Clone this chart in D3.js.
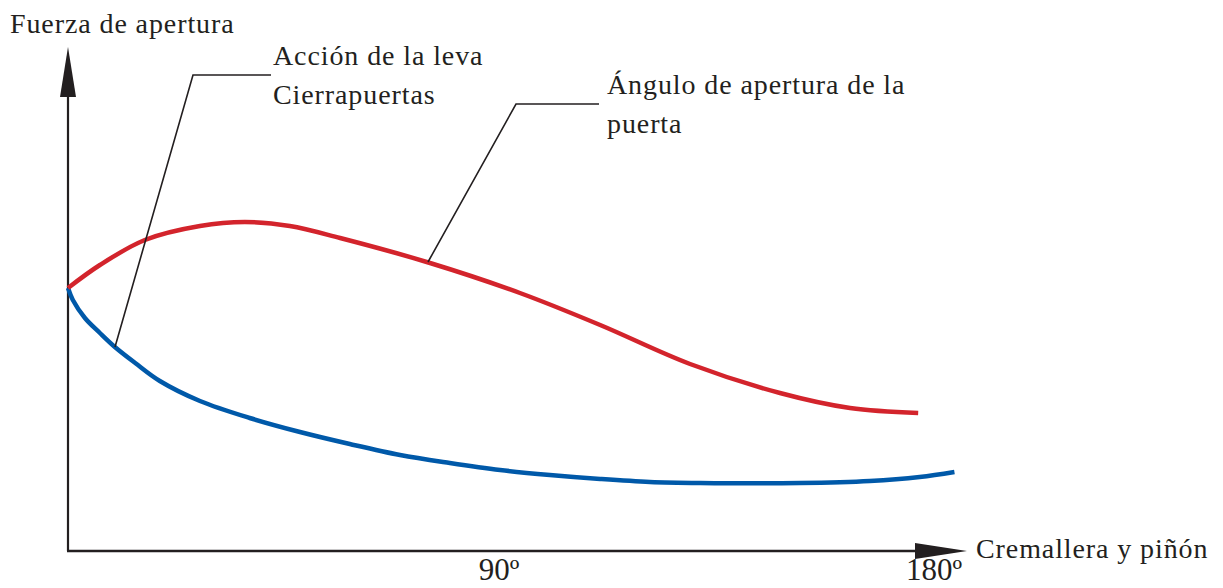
<!DOCTYPE html>
<html>
<head>
<meta charset="utf-8">
<script src="https://cdn.jsdelivr.net/npm/d3@7"></script>
<style>
  body { margin: 0; background: #fff; }
  text { font-family: "Liberation Serif", "DejaVu Serif", serif; fill: #231f20; }
  .lbl { font-size: 28px; letter-spacing: 0.9px; }
</style>
</head>
<body>
<div id="chart"></div>
<script>
// data (x in degrees, y in relative force units)
const redX = [0, 6.6, 15.9, 27.3, 36.6, 45.9, 56.3, 74.9, 93.5, 110.1, 128.7, 147.3, 161.8, 175.9];
const redY = [52.4, 57, 62, 64.8, 65.6, 64.8, 62.4, 57.4, 51.4, 45, 37.2, 31.4, 28.4, 27.4];
const blueX = [0, 1, 3.5, 6.6, 9.7, 13.9, 19, 27.3, 37.6, 48, 58.3, 68.7, 79, 89.4, 99.7, 110.1, 120.4, 130.8, 151.4, 165.9, 176.2, 183.4];
const blueY = [52.4, 50, 46.4, 43.4, 40.6, 37.4, 33.8, 29.8, 26.4, 23.6, 21.2, 19, 17.4, 16, 15, 14.2, 13.6, 13.4, 13.4, 13.8, 14.6, 15.6];
const tickValues = [90, 180];
const tickLabels = ["90º", "180º"];

function init() {
    const width = 1223;
    const height = 588;

    const x = d3.scaleLinear().domain([0, 180]).range([68, 938]);
    const y = d3.scaleLinear().domain([0, 100]).range([550, 50]);

    const svg = d3.select("#chart")
        .append("svg")
        .attr("width", width)
        .attr("height", height);

    // axes with arrow heads
    const axisColor = "#231f20";
    svg.append("line")
        .attr("x1", 68).attr("y1", 551).attr("x2", 68).attr("y2", 90)
        .attr("stroke", axisColor).attr("stroke-width", 2.2);
    svg.append("path")
        .attr("d", "M68,47 L60,97 L76,97 Z")
        .attr("fill", axisColor);
    svg.append("line")
        .attr("x1", 67).attr("y1", 551).attr("x2", 930).attr("y2", 551)
        .attr("stroke", axisColor).attr("stroke-width", 2.5);
    svg.append("path")
        .attr("d", "M967,551 L915,543 L915,559 Z")
        .attr("fill", axisColor);

    // axis texts
    svg.append("text")
        .attr("class", "lbl")
        .attr("x", 10).attr("y", 33)
        .text("Fuerza de apertura");
    svg.append("text")
        .attr("class", "lbl")
        .attr("x", 976).attr("y", 558)
        .text("Cremallera y piñón");

    svg.selectAll(".tick")
        .data(tickValues)
        .enter()
        .append("text")
        .attr("class", "tick")
        .attr("x", d => x(d) - 4)
        .attr("y", 580)
        .attr("text-anchor", "middle")
        .style("font-size", "31px")
        .text((d, i) => tickLabels[i]);

    // curves
    const line = d3.line()
        .x(d => x(d[0]))
        .y(d => y(d[1]))
        .curve(d3.curveCatmullRom.alpha(0.5));

    svg.append("path")
        .datum(blueX.map((v, i) => [v, blueY[i]]))
        .attr("d", line)
        .attr("fill", "none")
        .attr("stroke", "#0059a9")
        .attr("stroke-width", 4.5);

    svg.append("path")
        .datum(redX.map((v, i) => [v, redY[i]]))
        .attr("d", line)
        .attr("fill", "none")
        .attr("stroke", "#d3242c")
        .attr("stroke-width", 4.5);

    // leader lines
    svg.append("path")
        .attr("d", "M115,347 L193,75 L271,75")
        .attr("fill", "none")
        .attr("stroke", axisColor)
        .attr("stroke-width", 1.6);
    svg.append("path")
        .attr("d", "M428,262 L516,104 L599,104")
        .attr("fill", "none")
        .attr("stroke", axisColor)
        .attr("stroke-width", 1.6);

    // annotations
    svg.append("text").attr("class", "lbl")
        .attr("x", 273).attr("y", 65)
        .text("Acción de la leva");
    svg.append("text").attr("class", "lbl")
        .attr("x", 273).attr("y", 104)
        .text("Cierrapuertas");
    svg.append("text").attr("class", "lbl")
        .attr("x", 607).attr("y", 94)
        .text("Ángulo de apertura de la");
    svg.append("text").attr("class", "lbl")
        .attr("x", 607).attr("y", 133)
        .text("puerta");
}

window.onload = init;
</script>
</body>
</html>
